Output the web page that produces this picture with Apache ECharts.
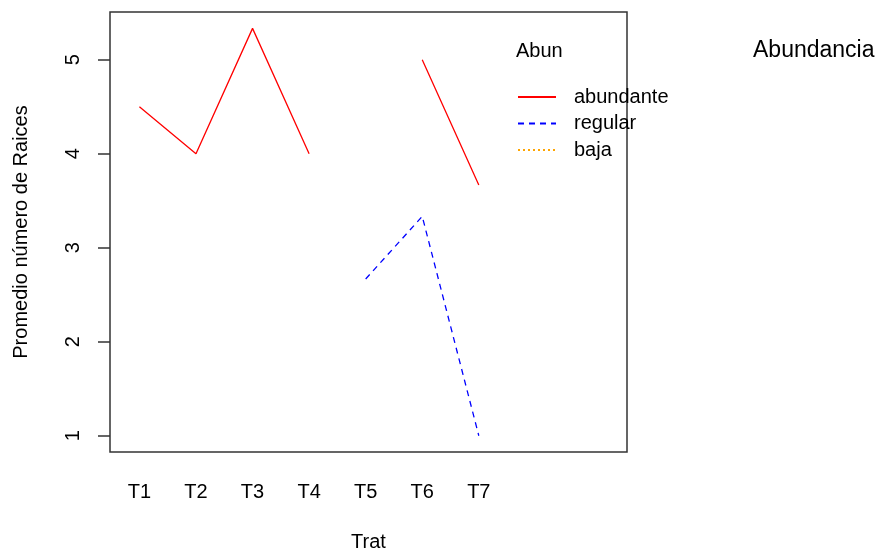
<!DOCTYPE html>
<html>
<head>
<meta charset="utf-8">
<script src="https://cdn.jsdelivr.net/npm/echarts@6/dist/echarts.min.js"></script>
<style>
  html, body { margin: 0; padding: 0; background: #fff; }
  #chart { width: 875px; height: 550px; }
</style>
</head>
<body>
<div id="chart"></div>
<script>
// Treatment levels on the x axis
var trat = ['T1', 'T2', 'T3', 'T4', 'T5', 'T6', 'T7'];
// Mean number of roots per treatment, one array per abundance level ('-' = no data)
var abundanteVals = [4.5, 4.0, 5.333, 4.0, '-', 5.0, 3.667];
var regularVals   = ['-', '-', '-', '-', 2.667, 3.333, 1.0];
var bajaVals      = ['-', '-', '-', '-', '-', '-', '-'];
// Axis tick values
var yTicks = [1, 2, 3, 4, 5];
var xTicks = [1, 2, 3, 4, 5, 6, 7];

function pairs(vals) {
  return vals.map(function (v, i) { return [i + 1, v]; });
}

var font = 'Liberation Sans, Arial, sans-serif';
var chart = echarts.init(document.getElementById('chart'), null, { renderer: 'canvas' });

chart.setOption({
  animation: false,
  backgroundColor: '#ffffff',
  title: [
    { text: 'Abundancia', left: 748, top: 34,
      textStyle: { fontFamily: font, fontSize: 23, fontWeight: 'normal', color: '#000' } },
    { text: 'Abun', left: 511, top: 36,
      textStyle: { fontFamily: font, fontSize: 20, fontWeight: 'normal', color: '#000' } }
  ],
  legend: {
    orient: 'vertical',
    left: 512,
    top: 82,
    itemWidth: 38,
    itemHeight: 14,
    itemGap: 6.5,
    selectedMode: false,
    itemStyle: { opacity: 0 },
    textStyle: { fontFamily: font, fontSize: 20, color: '#000', padding: [0, 0, 0, 13] },
    data: ['abundante', 'regular', 'baja']
  },
  grid: {
    left: 110, right: 248, top: 12, bottom: 98,
    outerBoundsMode: 'none',
    containLabel: false,
    show: true, borderColor: '#333', borderWidth: 1.5, backgroundColor: 'transparent'
  },
  xAxis: {
    type: 'value',
    min: 0.48,
    max: 9.62,
    name: 'Trat',
    nameLocation: 'middle',
    nameGap: 80,
    nameTextStyle: { fontFamily: font, fontSize: 20, color: '#000' },
    axisLine: { show: false },
    axisTick: { show: false, customValues: xTicks },
    splitLine: { show: false },
    axisLabel: {
      customValues: xTicks,
      margin: 30,
      fontFamily: font, fontSize: 20, color: '#000',
      formatter: function (v) { return trat[Math.round(v) - 1]; }
    }
  },
  yAxis: {
    type: 'value',
    min: 0.827,
    max: 5.507,
    name: 'Promedio número de Raices',
    nameLocation: 'middle',
    nameGap: 79,
    nameTextStyle: { fontFamily: font, fontSize: 20, color: '#000' },
    axisLine: { show: false },
    axisTick: { show: true, customValues: yTicks, length: 12, lineStyle: { color: '#333', width: 1.5 } },
    splitLine: { show: false },
    axisLabel: {
      customValues: yTicks,
      rotate: 90,
      margin: 27,
      fontFamily: font, fontSize: 20, color: '#000'
    }
  },
  series: [
    { name: 'abundante', type: 'line', data: pairs(abundanteVals), symbol: 'none',
      color: '#ff0000', lineStyle: { color: '#ff0000', width: 1.3, type: 'solid' } },
    { name: 'regular', type: 'line', data: pairs(regularVals), symbol: 'none',
      color: '#0000ff', lineStyle: { color: '#0000ff', width: 1.3, type: [6, 5] } },
    { name: 'baja', type: 'line', data: pairs(bajaVals), symbol: 'none',
      color: '#ffa500', lineStyle: { color: '#ffa500', width: 1.3, type: [2, 3] } }
  ]
});
</script>
</body>
</html>
